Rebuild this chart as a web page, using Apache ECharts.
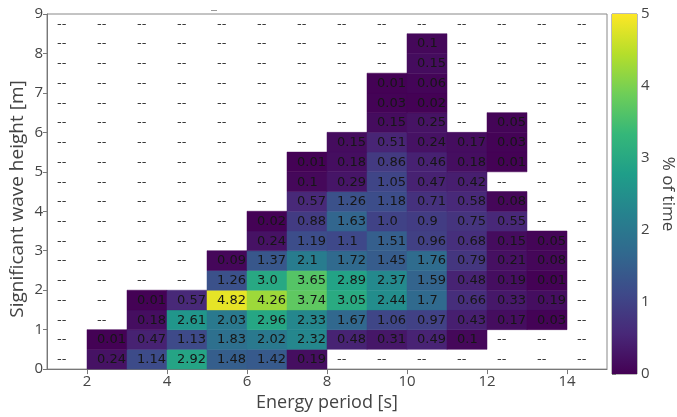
<!DOCTYPE html>
<html><head><meta charset="utf-8">
<script src="https://cdn.jsdelivr.net/npm/echarts@6/dist/echarts.min.js"></script>
<style>html,body{margin:0;padding:0;background:#fff}#c{width:677px;height:417px}</style>
</head><body><div id="c"></div>
<script>
// Bin left edges (Energy period, s) and bottom edges (Significant wave height, m)
const periodBins = [1,2,3,4,5,6,7,8,9,10,11,12,13,14];
const periodStep = 1;
const heightStep = 0.5;
const xTicks = [2,4,6,8,10,12,14];
const yTicks = [0,1,2,3,4,5,6,7,8,9];
const cbarTicks = [0,1,2,3,4,5];
const N = null;
// % of time per cell, one array per wave-height bin (bottom edge in name)
const hs_0_0 = [N,0.24,1.14,2.92,1.48,1.42,0.19,N,N,N,N,N,N,N];
const hs_0_5 = [N,0.01,0.47,1.13,1.83,2.02,2.32,0.48,0.31,0.49,0.1,N,N,N];
const hs_1_0 = [N,N,0.18,2.61,2.03,2.96,2.33,1.67,1.06,0.97,0.43,0.17,0.03,N];
const hs_1_5 = [N,N,0.01,0.57,4.82,4.26,3.74,3.05,2.44,1.7,0.66,0.33,0.19,N];
const hs_2_0 = [N,N,N,N,1.26,3.0,3.65,2.89,2.37,1.59,0.48,0.19,0.01,N];
const hs_2_5 = [N,N,N,N,0.09,1.37,2.1,1.72,1.45,1.76,0.79,0.21,0.08,N];
const hs_3_0 = [N,N,N,N,N,0.24,1.19,1.1,1.51,0.96,0.68,0.15,0.05,N];
const hs_3_5 = [N,N,N,N,N,0.02,0.88,1.63,1.0,0.9,0.75,0.55,N,N];
const hs_4_0 = [N,N,N,N,N,N,0.57,1.26,1.18,0.71,0.58,0.08,N,N];
const hs_4_5 = [N,N,N,N,N,N,0.1,0.29,1.05,0.47,0.42,N,N,N];
const hs_5_0 = [N,N,N,N,N,N,0.01,0.18,0.86,0.46,0.18,0.01,N,N];
const hs_5_5 = [N,N,N,N,N,N,N,0.15,0.51,0.24,0.17,0.03,N,N];
const hs_6_0 = [N,N,N,N,N,N,N,N,0.15,0.25,N,0.05,N,N];
const hs_6_5 = [N,N,N,N,N,N,N,N,0.03,0.02,N,N,N,N];
const hs_7_0 = [N,N,N,N,N,N,N,N,0.01,0.06,N,N,N,N];
const hs_7_5 = [N,N,N,N,N,N,N,N,N,0.15,N,N,N,N];
const hs_8_0 = [N,N,N,N,N,N,N,N,N,0.1,N,N,N,N];
const hs_8_5 = [N,N,N,N,N,N,N,N,N,N,N,N,N,N];
const heightBins = [0,0.5,1,1.5,2,2.5,3,3.5,4,4.5,5,5.5,6,6.5,7,7.5,8,8.5];
const rows = [hs_0_0,hs_0_5,hs_1_0,hs_1_5,hs_2_0,hs_2_5,hs_3_0,hs_3_5,hs_4_0,hs_4_5,hs_5_0,hs_5_5,hs_6_0,hs_6_5,hs_7_0,hs_7_5,hs_8_0,hs_8_5];

const viridis = ['#440154','#482878','#3e4989','#31688e','#26828e','#1f9e89','#35b779','#6ece58','#b5de2b','#fde725'];

const filled = [], empty = [];
rows.forEach((r, i) => r.forEach((v, j) => {
  if (v === null) empty.push([periodBins[j], heightBins[i]]);
  else filled.push([periodBins[j], heightBins[i], v]);
}));
function fmt(v){ return Number.isInteger(v) ? v.toFixed(1) : String(v); }

const cellFont = '13px "DejaVu Sans"';
const axisFont = '"Open Sans"';
const axisColor = '#444';

function renderCell(params, api){
  const x0 = api.value(0), y0 = api.value(1);
  const p1 = api.coord([x0, y0 + heightStep]);
  const p2 = api.coord([x0 + periodStep, y0]);
  const c = api.visual('color');
  return {type:'group', children:[
    {type:'rect', shape:{x:p1[0], y:p1[1], width:p2[0]-p1[0], height:p2[1]-p1[1]},
     style:{fill:c, stroke:c, lineWidth:0.5}},
    {type:'text', x:(p1[0]+p2[0])/2 - 10, y:(p1[1]+p2[1])/2 + 0.5,
     style:{text:fmt(api.value(2)), fill:'#161616', font:cellFont, align:'left', verticalAlign:'middle'}}
  ]};
}
function renderEmpty(params, api){
  const x0 = api.value(0), y0 = api.value(1);
  const p1 = api.coord([x0, y0 + heightStep]);
  const p2 = api.coord([x0 + periodStep, y0]);
  return {type:'text', x:(p1[0]+p2[0])/2 - 10, y:(p1[1]+p2[1])/2 + 0.5,
    style:{text:'--', fill:'#3a3a3a', font:cellFont, align:'left', verticalAlign:'middle'}};
}
function renderBar(params, api){
  const p1 = api.coord([0, cbarTicks[cbarTicks.length-1]]);
  const p2 = api.coord([1, cbarTicks[0]]);
  const stops = viridis.map((c,i)=>({offset:i/(viridis.length-1), color:c}));
  return {type:'rect', shape:{x:p1[0], y:p1[1], width:p2[0]-p1[0], height:p2[1]-p1[1]},
    style:{fill:new echarts.graphic.LinearGradient(0,1,0,0,stops)}};
}

const chart = echarts.init(document.getElementById('c'), null, {renderer:'canvas'});
chart.setOption({
  animation:false,
  backgroundColor:'#fff',
  grid:[
    {left:47, top:14, width:560, height:360, show:true, borderColor:'#888', borderWidth:1, backgroundColor:'transparent'},
    {left:612, top:14, width:30, height:360, show:true, borderColor:'#777', borderWidth:1, backgroundColor:'transparent'}
  ],
  xAxis:[
    {type:'value', gridIndex:0, min:1, max:15, name:'Energy period [s]', nameLocation:'middle', nameGap:21,
     nameTextStyle:{fontFamily:axisFont, fontSize:18, color:axisColor},
     axisLine:{show:true, lineStyle:{color:'#777'}},
     axisTick:{show:true, length:5, customValues:xTicks, lineStyle:{color:'#777'}},
     axisLabel:{customValues:xTicks, fontFamily:axisFont, fontSize:15, color:axisColor, margin:5},
     splitLine:{show:false}},
    {type:'value', gridIndex:1, min:0, max:1, show:false}
  ],
  yAxis:[
    {type:'value', gridIndex:0, min:0, max:9, interval:1,
     axisLine:{show:true, lineStyle:{color:'#777'}},
     axisTick:{show:true, length:4, lineStyle:{color:'#777'}},
     axisLabel:{fontFamily:axisFont, fontSize:15, color:axisColor, margin:4},
     splitLine:{show:false}},
    {type:'value', gridIndex:1, position:'right', min:0, max:5, interval:1, name:'% of time', nameLocation:'middle', nameGap:22, nameRotate:-90,
     nameTextStyle:{fontFamily:axisFont, fontSize:17, color:axisColor},
     axisLine:{show:false},
     axisTick:{show:true, length:4, lineStyle:{color:'#777'}},
     axisLabel:{fontFamily:axisFont, fontSize:15, color:axisColor, margin:4},
     splitLine:{show:false}}
  ],
  visualMap:{show:false, type:'continuous', min:0, max:5, dimension:2, seriesIndex:0, inRange:{color:viridis}},
  series:[
    {type:'custom', xAxisIndex:0, yAxisIndex:0, renderItem:renderCell, data:filled, encode:{x:0, y:1}, z:2},
    {type:'custom', xAxisIndex:0, yAxisIndex:0, renderItem:renderEmpty, data:empty, encode:{x:0, y:1}, z:2},
    {type:'custom', xAxisIndex:1, yAxisIndex:1, renderItem:renderBar, data:[[0,0]], z:1}
  ],
  graphic:[
    {type:'rect', left:211, top:10, shape:{width:6, height:1}, style:{fill:'#999'}},
    {type:'text', x:18, y:199, rotation:Math.PI/2,
     style:{text:'Significant wave height [m]', font:'19px "Open Sans"', fill:axisColor, align:'center', verticalAlign:'middle'}}
  ]
});
</script></body></html>
